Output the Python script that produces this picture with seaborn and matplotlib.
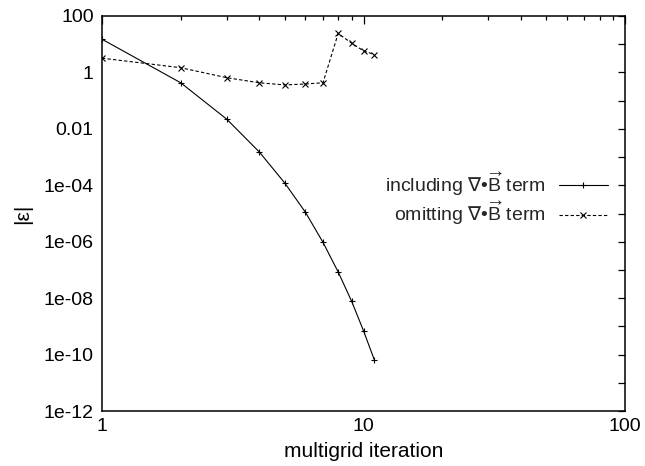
import numpy as np
import pandas as pd
import matplotlib
matplotlib.use("Agg")
import matplotlib.pyplot as plt
import matplotlib.ticker as mticker
import seaborn as sns

# data
iterations = [1, 2, 3, 4, 5, 6, 7, 8, 9, 10, 11]
err_including = [15, 0.43, 0.022, 1.5e-3, 1.2e-4, 1.1e-5, 9.5e-7, 8.5e-8, 7.9e-9, 7e-10, 6.5e-11]
err_omitting = [3.2, 1.47, 0.65, 0.43, 0.36, 0.39, 0.43, 24, 11, 5.8, 4.3]

y_major = [1e2, 1, 1e-2, 1e-4, 1e-6, 1e-8, 1e-10, 1e-12]
y_labels = ["100", "1", "0.01", "1e-04", "1e-06", "1e-08", "1e-10", "1e-12"]
y_minor = [1e1, 1e-1, 1e-3, 1e-5, 1e-7, 1e-9, 1e-11]
x_major = [1, 10, 100]
x_labels = ["1", "10", "100"]

label_inc = r"including $\mathsf{∇}$•$\overrightarrow{\mathrm{B}}$ term"
label_omit = r"omitting $\mathsf{∇}$•$\overrightarrow{\mathrm{B}}$ term"

sns.set_theme(style="white")
plt.rcParams["font.family"] = ["Liberation Sans", "DejaVu Sans"]
plt.rcParams["mathtext.fontset"] = "custom"
plt.rcParams["mathtext.rm"] = "Liberation Sans"
plt.rcParams["mathtext.it"] = "Liberation Sans:italic"
plt.rcParams["mathtext.bf"] = "Liberation Sans:bold"
plt.rcParams["mathtext.sf"] = "DejaVu Sans"

df = pd.DataFrame({
    "iteration": iterations * 2,
    "err": err_including + err_omitting,
    "series": [label_inc] * len(iterations) + [label_omit] * len(iterations),
})

fig = plt.figure(figsize=(6.45, 4.66), dpi=100)
ax = fig.add_axes([102 / 645, 55 / 466, 523 / 645, 395 / 466])

sns.lineplot(data=df, x="iteration", y="err", hue="series", style="series",
             palette={label_inc: "black", label_omit: "black"},
             markers={label_inc: "+", label_omit: "x"},
             dashes={label_inc: "", label_omit: (3, 2)},
             lw=0.8, markersize=5, markeredgewidth=0.8, markeredgecolor="black",
             ax=ax)

ax.set_xscale("log")
ax.set_yscale("log")
ax.set_xlim(1, 100)
ax.set_ylim(1e-12, 100)

ax.yaxis.set_major_locator(mticker.FixedLocator(y_major))
ax.yaxis.set_major_formatter(mticker.FixedFormatter(y_labels))
ax.yaxis.set_minor_locator(mticker.FixedLocator(y_minor))
ax.yaxis.set_minor_formatter(mticker.NullFormatter())
ax.xaxis.set_major_locator(mticker.FixedLocator(x_major))
ax.xaxis.set_major_formatter(mticker.FixedFormatter(x_labels))
ax.xaxis.set_minor_locator(mticker.LogLocator(base=10, subs=np.arange(2, 10)))
ax.xaxis.set_minor_formatter(mticker.NullFormatter())

ax.tick_params(which="both", direction="in", top=True, right=True,
               color="black", width=0.9, labelsize=14, labelcolor="black")
ax.tick_params(axis="y", which="both", length=5, pad=6)
ax.tick_params(axis="x", which="major", length=6, pad=5)
ax.tick_params(axis="x", which="minor", length=3)
for s in ax.spines.values():
    s.set_color("black")
    s.set_linewidth(1.1)

ax.set_xlabel("multigrid iteration", fontsize=15, color="black", labelpad=5)
ax.set_ylabel("|ε|", fontsize=15, color="black", labelpad=8)

ax.legend(loc="center right", bbox_to_anchor=(0.967, 0.538), frameon=False,
          markerfirst=False, fontsize=14, handlelength=2.5, handletextpad=0.7,
          borderpad=0, borderaxespad=0, labelspacing=0.1, title=None)

fig.savefig("out.png", dpi=100)
